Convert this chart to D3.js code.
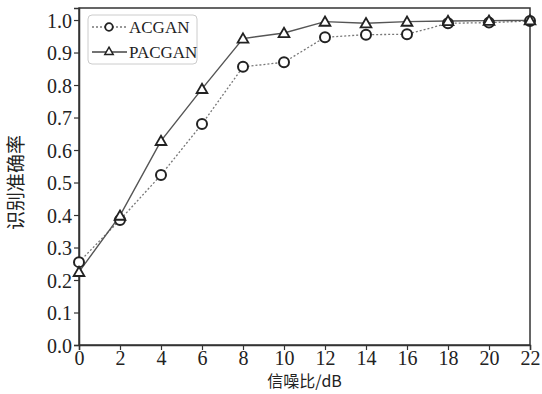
<!DOCTYPE html>
<html>
<head>
<meta charset="utf-8">
<script src="https://cdn.jsdelivr.net/npm/d3@7"></script>
<style>
  body { margin: 0; background: #fff; }
  text { font-family: "Liberation Serif", "Times New Roman", serif; fill: #222; }
  .cjk { font-family: "Noto Sans CJK SC", sans-serif; }
</style>
</head>
<body>
<div id="chart"></div>
<script>
// data
var snr = [0, 2, 4, 6, 8, 10, 12, 14, 16, 18, 20, 22];
var acgan = [0.255, 0.385, 0.523, 0.68, 0.856, 0.87, 0.947, 0.955, 0.956, 0.99, 0.992, 0.997];
var pacgan = [0.225, 0.398, 0.628, 0.788, 0.943, 0.96, 0.995, 0.99, 0.995, 0.997, 0.998, 0.999];
var xTicks = [0, 2, 4, 6, 8, 10, 12, 14, 16, 18, 20, 22];
var yTicks = [0, 0.1, 0.2, 0.3, 0.4, 0.5, 0.6, 0.7, 0.8, 0.9, 1.0];

var margin = {top: 8, right: 12, bottom: 49, left: 79},
    width = 542 - margin.left - margin.right,
    height = 394 - margin.top - margin.bottom;

var x = d3.scaleLinear().domain([0, 22]).range([0, width]);
var y = d3.scaleLinear().domain([0, 1.037]).range([height, 0]);

var svg = d3.select("#chart").append("svg")
    .attr("width", 542)
    .attr("height", 394)
  .append("g")
    .attr("transform", "translate(" + margin.left + "," + margin.top + ")");

// frame
svg.append("rect")
    .attr("width", width).attr("height", height)
    .attr("fill", "none").attr("stroke", "#333").attr("stroke-width", 1.5);

// axes
var xAxis = svg.append("g")
    .attr("transform", "translate(0," + height + ")")
    .call(d3.axisBottom(x).tickValues(xTicks).tickSize(5).tickPadding(1).tickFormat(d3.format("d")));
var yAxis = svg.append("g")
    .call(d3.axisLeft(y).tickValues(yTicks).tickSize(5).tickPadding(2).tickFormat(d3.format(".1f")));

[xAxis, yAxis].forEach(function(a) {
  a.select(".domain").attr("stroke", "#333").attr("stroke-width", 1.5);
  a.selectAll(".tick line").attr("stroke", "#333").attr("stroke-width", 1.2);
  a.selectAll(".tick text").attr("font-size", 20).attr("fill", "#222")
      .style("font-family", "'Liberation Serif', serif");
});
xAxis.selectAll(".tick text").attr("dy", "0.68em");
yAxis.selectAll(".tick text").attr("dy", "0.35em");

// axis titles
svg.append("text")
    .attr("class", "cjk")
    .attr("x", x(11))
    .attr("y", height + 42)
    .attr("text-anchor", "middle")
    .attr("font-size", 16)
    .text("信噪比/dB");

svg.append("text")
    .attr("class", "cjk")
    .attr("transform", "translate(" + (-56) + "," + y(0.5) + ") rotate(-90)")
    .attr("text-anchor", "middle")
    .attr("font-size", 19)
    .text("识别准确率");

var line = d3.line()
    .x(function(d, i) { return x(snr[i]); })
    .y(function(d) { return y(d); });

// ACGAN: dashed line, circles
svg.append("path")
    .datum(acgan)
    .attr("d", line)
    .attr("fill", "none")
    .attr("stroke", "#777")
    .attr("stroke-width", 1.3)
    .attr("stroke-dasharray", "2,2");

// PACGAN: solid line, triangles
svg.append("path")
    .datum(pacgan)
    .attr("d", line)
    .attr("fill", "none")
    .attr("stroke", "#555")
    .attr("stroke-width", 1.4);

var tri = d3.symbol().type(d3.symbolTriangle).size(50);

svg.selectAll(".circ")
    .data(acgan)
  .enter().append("circle")
    .attr("cx", function(d, i) { return x(snr[i]); })
    .attr("cy", function(d) { return y(d); })
    .attr("r", 5)
    .attr("fill", "#fff")
    .attr("stroke", "#222")
    .attr("stroke-width", 2);

svg.selectAll(".tri")
    .data(pacgan)
  .enter().append("path")
    .attr("d", tri)
    .attr("transform", function(d, i) { return "translate(" + x(snr[i]) + "," + (y(d) + 1) + ")"; })
    .attr("fill", "#fff")
    .attr("stroke", "#222")
    .attr("stroke-width", 1.8);

// legend
var legend = svg.append("g").attr("transform", "translate(9,7)");
legend.append("rect")
    .attr("width", 109).attr("height", 49).attr("rx", 4)
    .attr("fill", "#fff").attr("stroke", "#ccc").attr("stroke-width", 1);

var row1 = legend.append("g").attr("transform", "translate(0,12)");
row1.append("line").attr("x1", 4).attr("x2", 39)
    .attr("stroke", "#777").attr("stroke-width", 1.3).attr("stroke-dasharray", "2,2");
row1.append("circle").attr("cx", 21).attr("r", 3.8)
    .attr("fill", "#fff").attr("stroke", "#222").attr("stroke-width", 1.8);
row1.append("text").attr("x", 41).attr("dy", "0.35em").attr("font-size", 17).text("ACGAN");

var row2 = legend.append("g").attr("transform", "translate(0,37)");
row2.append("line").attr("x1", 4).attr("x2", 39)
    .attr("stroke", "#444").attr("stroke-width", 1.4);
row2.append("path").attr("d", d3.symbol().type(d3.symbolTriangle).size(30))
    .attr("transform", "translate(21,0)")
    .attr("fill", "#fff").attr("stroke", "#222").attr("stroke-width", 1.5);
row2.append("text").attr("x", 41).attr("dy", "0.35em").attr("font-size", 17).text("PACGAN");
</script>
</body>
</html>
